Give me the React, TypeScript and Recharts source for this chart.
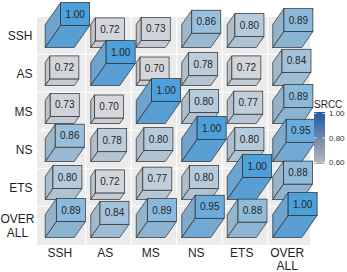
import { ScatterChart, Scatter, XAxis, YAxis, ReferenceArea, ReferenceLine } from 'recharts';

// ---------------------------------------------------------------------------
// data: SRCC between the six scores (row = y category, column = x category)
// ---------------------------------------------------------------------------

const categories = ['SSH', 'AS', 'MS', 'NS', 'ETS', 'OVERALL'];
const tickLabels = ['SSH', 'AS', 'MS', 'NS', 'ETS', 'OVER\nALL'];

const rowSSH = [1.0, 0.72, 0.73, 0.86, 0.8, 0.89];
const rowAS = [0.72, 1.0, 0.7, 0.78, 0.72, 0.84];
const rowMS = [0.73, 0.7, 1.0, 0.8, 0.77, 0.89];
const rowNS = [0.86, 0.78, 0.8, 1.0, 0.8, 0.95];
const rowETS = [0.8, 0.72, 0.77, 0.8, 1.0, 0.88];
const rowOverall = [0.89, 0.84, 0.89, 0.95, 0.88, 1.0];

const rows = [rowSSH, rowAS, rowMS, rowNS, rowETS, rowOverall];

const legendBreaks = [1.0, 0.8, 0.6];
const legendLimits = [0.6, 1.0];

const catIndex = categories.map((_, i) => i);

// top row first, so lower rows are painted over the boxes above them
const cells = rows.flatMap((row, r) =>
    row.map((v, c) => ({ x: c, y: r, v, key: `${categories[r]}-${categories[c]}` }))
);

const FONT = '"Liberation Sans", Arial, Helvetica, sans-serif';

// ---------------------------------------------------------------------------
// colours
// ---------------------------------------------------------------------------

const mix = (a: number[], b: number[], t: number) => a.map((c, i) => Math.round(c + (b[i] - c) * t));
const rgb = (c: number[]) => `rgb(${c.join(',')})`;

const GREY = [214, 215, 218];
const BLUE = [78, 160, 220];

const faceRGB = (v: number) => {
    const t = Math.pow(Math.max(0, Math.min(1, (v - 0.7) / 0.3)), 1.3);
    return mix(GREY, BLUE, t);
};

// ---------------------------------------------------------------------------
// 3d box shape
// ---------------------------------------------------------------------------

const BOX_W = 29;
const BOX_H = 23;

const Box = (props: any) => {
    const { cx, cy, payload } = props;
    if (cx == null || cy == null) return null;
    const v = payload.v as number;

    const dy = 55 * (v - legendLimits[0]);
    const dx = dy * 0.7;

    const bx0 = cx - BOX_W / 2;
    const bx1 = cx + BOX_W / 2;
    const by0 = cy - BOX_H / 2;
    const by1 = cy + BOX_H / 2;
    const fx0 = bx0 + dx;
    const fx1 = bx1 + dx;
    const fy0 = by0 - dy;
    const fy1 = by1 - dy;

    const face = faceRGB(v);
    const side = mix(face, [160, 168, 178], 0.38);
    const bottom = mix(face, [140, 156, 174], 0.18);
    const stroke = '#2b2b2b';

    return (
        <g>
            <polygon
                points={`${bx0},${by0} ${fx0},${fy0} ${fx0},${fy1} ${bx0},${by1}`}
                fill={rgb(side)}
                stroke={stroke}
                strokeWidth={0.7}
                strokeLinejoin="round"
            />
            <polygon
                points={`${bx0},${by1} ${fx0},${fy1} ${fx1},${fy1} ${bx1},${by1}`}
                fill={rgb(bottom)}
                stroke={stroke}
                strokeWidth={0.7}
                strokeLinejoin="round"
            />
            <rect x={fx0} y={fy0} width={BOX_W} height={BOX_H} fill={rgb(face)} stroke={stroke} strokeWidth={0.7} />
            <text
                x={fx0 + BOX_W / 2}
                y={fy0 + BOX_H / 2}
                dy="0.36em"
                textAnchor="middle"
                fontSize={10}
                fontFamily={FONT}
                fill="#262626"
            >
                {v.toFixed(2)}
            </text>
        </g>
    );
};

// ---------------------------------------------------------------------------
// axis ticks
// ---------------------------------------------------------------------------

const XTick = ({ x, y, payload }: any) => {
    const lines = tickLabels[payload.value].split('\n');
    return (
        <text x={x} y={y} textAnchor="middle" fontSize={12} fontFamily={FONT} fill="#1f1f1f">
            {lines.map((l, i) => (
                <tspan key={l} x={x} dy={i === 0 ? '0.71em' : '1.15em'}>
                    {l}
                </tspan>
            ))}
        </text>
    );
};

const YTick = ({ x, y, payload }: any) => {
    const lines = tickLabels[payload.value].split('\n');
    if (lines.length === 1) {
        return (
            <text x={x} y={y} dy="0.36em" textAnchor="end" fontSize={12} fontFamily={FONT} fill="#1f1f1f">
                {lines[0]}
            </text>
        );
    }
    // stacked label: lines centred on each other, block right-aligned
    const cxText = x - 15;
    return (
        <text x={cxText} y={y} textAnchor="middle" fontSize={12} fontFamily={FONT} fill="#1f1f1f">
            {lines.map((l, i) => (
                <tspan key={l} x={cxText} dy={i === 0 ? '-0.22em' : '1.15em'}>
                    {l}
                </tspan>
            ))}
        </text>
    );
};

// ---------------------------------------------------------------------------
// colourbar legend
// ---------------------------------------------------------------------------

const BAR_X = 314;
const BAR_W = 11;
const BAR_TOP = 112;
const BAR_BOTTOM = 164;
const breakY = (v: number) =>
    162.5 - ((v - legendLimits[0]) / (legendLimits[1] - legendLimits[0])) * (162.5 - 113.5);

const ColourBar = () => (
    <svg width={347} height={272} style={{ position: 'absolute', left: 0, top: 0, pointerEvents: 'none' }}>
        <defs>
            <linearGradient id="srcc" x1="0" y1="0" x2="0" y2="1">
                <stop offset="0%" stopColor="#1d5aa6" />
                <stop offset="50%" stopColor="#6f88ab" />
                <stop offset="100%" stopColor="#bababa" />
            </linearGradient>
        </defs>
        <text x={314} y={107.5} fontSize={10} fontFamily={FONT} fill="#1f1f1f">
            SRCC
        </text>
        <rect x={BAR_X} y={BAR_TOP} width={BAR_W} height={BAR_BOTTOM - BAR_TOP} fill="url(#srcc)" />
        {legendBreaks.map((b) => (
            <g key={b}>
                <line x1={BAR_X} x2={BAR_X + 2.5} y1={breakY(b)} y2={breakY(b)} stroke="#fff" strokeWidth={0.8} />
                <line
                    x1={BAR_X + BAR_W - 2.5}
                    x2={BAR_X + BAR_W}
                    y1={breakY(b)}
                    y2={breakY(b)}
                    stroke="#fff"
                    strokeWidth={0.8}
                />
                <text x={329} y={breakY(b)} dy="0.36em" fontSize={8} fontFamily={FONT} fill="#333">
                    {b.toFixed(2)}
                </text>
            </g>
        ))}
    </svg>
);

// ---------------------------------------------------------------------------
// chart
// ---------------------------------------------------------------------------

export default function App() {
    return (
        <div style={{ position: 'absolute', left: 0, top: 0, width: 347, height: 272 }}>
            <ScatterChart width={347} height={272} margin={{ top: 17, right: 37, bottom: 0, left: 0 }}>
                <XAxis
                    type="number"
                    dataKey="x"
                    domain={[-0.5, 5.5]}
                    ticks={catIndex}
                    interval={0}
                    axisLine={false}
                    tickLine={false}
                    tickSize={0}
                    tickMargin={3}
                    height={27}
                    tick={<XTick />}
                />
                <YAxis
                    type="number"
                    dataKey="y"
                    domain={[-0.5, 5.5]}
                    reversed
                    ticks={catIndex}
                    interval={0}
                    axisLine={false}
                    tickLine={false}
                    tickSize={0}
                    tickMargin={4.5}
                    width={37}
                    tick={<YTick />}
                />
                <ReferenceArea x1={-0.5} x2={5.5} y1={-0.5} y2={5.5} fill="#ebebeb" fillOpacity={1} stroke="none" />
                {catIndex.slice(0, 5).map((i) => (
                    <ReferenceLine key={`gx${i}`} x={i + 0.57} stroke="#ffffff" strokeWidth={1.1} />
                ))}
                {catIndex.slice(0, 5).map((i) => (
                    <ReferenceLine key={`gy${i}`} y={i + 0.48} stroke="#ffffff" strokeWidth={1.1} />
                ))}
                <Scatter data={cells} shape={<Box />} isAnimationActive={false} />
            </ScatterChart>
            <ColourBar />
        </div>
    );
}
